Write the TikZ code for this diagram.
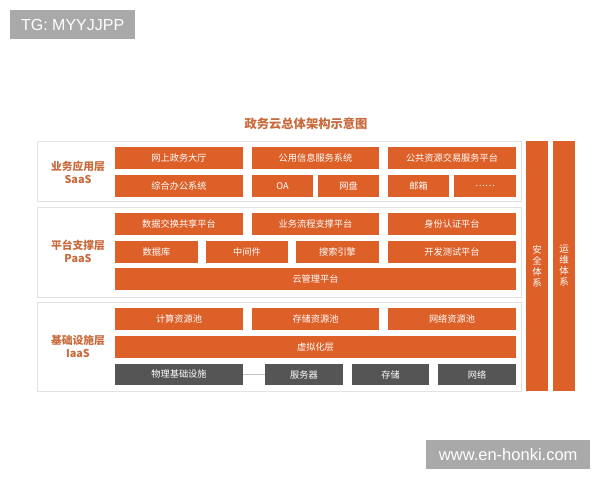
\documentclass[tikz,border=0pt]{standalone}
\usepackage{fontspec}
\setmainfont{Liberation Sans}
\newfontfamily\cjk{Noto Sans CJK SC}
\definecolor{orgc}{HTML}{DD6029}
\definecolor{lblc}{HTML}{C86A3C}
\definecolor{darkc}{HTML}{555555}
\definecolor{edgec}{HTML}{E2E2E2}
\definecolor{wmc}{HTML}{A9A9A9}
\begin{document}
\begin{tikzpicture}[x=1pt,y=-1pt,
  ob/.style={fill=orgc, text=white, font=\cjk\fontsize{9.2}{11}\selectfont, inner sep=0pt, minimum height=22, anchor=center},
  db/.style={ob, fill=darkc, minimum height=21},
  layer/.style={draw=edgec, line width=0.8pt, fill=white, inner sep=0pt, anchor=north west},
  lbl/.style={text=lblc, font=\cjk\bfseries\fontsize{10.8}{13}\selectfont, align=center},
  vcol/.style={ob, minimum width=22, minimum height=250, align=center, font=\cjk\fontsize{9.5}{11}\selectfont},
  wm/.style={fill=wmc, text=white, inner sep=0pt, anchor=north west}
]
\useasboundingbox (0,0) rectangle (600,480);
\fill[white] (0,0) rectangle (600,480);

% title
\node[text=lblc, font=\cjk\bfseries\fontsize{12.3}{14}\selectfont] (title) at (306,124) {政务云总体架构示意图};

% layer frames
\node[layer, minimum width=484, minimum height=60] (saas) at (37,141) {};
\node[layer, minimum width=484, minimum height=90] (paas) at (37,207) {};
\node[layer, minimum width=484, minimum height=89] (iaas) at (37,302) {};

\node[lbl] (saasl) at (78,172) {业务应用层\\SaaS};
\node[lbl] (paasl) at (78,251) {平台支撑层\\PaaS};
\node[lbl] (iaasl) at (78,346) {基础设施层\\IaaS};

% SaaS
\node[ob, minimum width=128] (s1) at (179,158) {网上政务大厅};
\node[ob, minimum width=127] (s2) at (315.5,158) {公用信息服务系统};
\node[ob, minimum width=128] (s3) at (452,158) {公共资源交易服务平台};
\node[ob, minimum width=128] (s4) at (179,186) {综合办公系统};
\node[ob, minimum width=61] (s5) at (282.5,186) {OA};
\node[ob, minimum width=61] (s6) at (348.5,186) {网盘};
\node[ob, minimum width=61] (s7) at (418.5,186) {邮箱};
\node[ob, minimum width=62] (s8) at (485,186) {……};

% PaaS
\node[ob, minimum width=128] (p1) at (179,224) {数据交换共享平台};
\node[ob, minimum width=127] (p2) at (315.5,224) {业务流程支撑平台};
\node[ob, minimum width=128] (p3) at (452,224) {身份认证平台};
\node[ob, minimum width=83] (p4) at (156.5,252) {数据库};
\node[ob, minimum width=82] (p5) at (247,252) {中间件};
\node[ob, minimum width=83] (p6) at (337.5,252) {搜索引擎};
\node[ob, minimum width=128] (p7) at (452,252) {开发测试平台};
\node[ob, minimum width=401] (p8) at (315.5,279) {云管理平台};

% IaaS
\node[ob, minimum width=128] (i1) at (179,319) {计算资源池};
\node[ob, minimum width=127] (i2) at (315.5,319) {存储资源池};
\node[ob, minimum width=128] (i3) at (452,319) {网络资源池};
\node[ob, minimum width=401] (i4) at (315.5,347) {虚拟化层};
\node[db, minimum width=128] (i5) at (179,374.5) {物理基础设施};
\node[db, minimum width=78] (i6) at (304,374.5) {服务器};
\node[db, minimum width=77] (i7) at (390.5,374.5) {存储};
\node[db, minimum width=78] (i8) at (477,374.5) {网络};
\draw[edgec!70!gray, line width=0.6pt] (i5.east) -- (i6.west);

% side columns
\node[vcol] (sec) at (537,266) {安\\全\\体\\系};
\node[vcol] (ops) at (564,266) {运\\维\\体\\系};

% watermarks
\node[wm, minimum width=125, minimum height=29, font=\fontsize{16}{18}\selectfont] (wm1) at (10,10) {TG: MYYJJPP};
\node[wm, minimum width=164, minimum height=29, font=\fontsize{16.5}{18}\selectfont] (wm2) at (426,440) {www.en-honki.com};
\end{tikzpicture}
\end{document}
